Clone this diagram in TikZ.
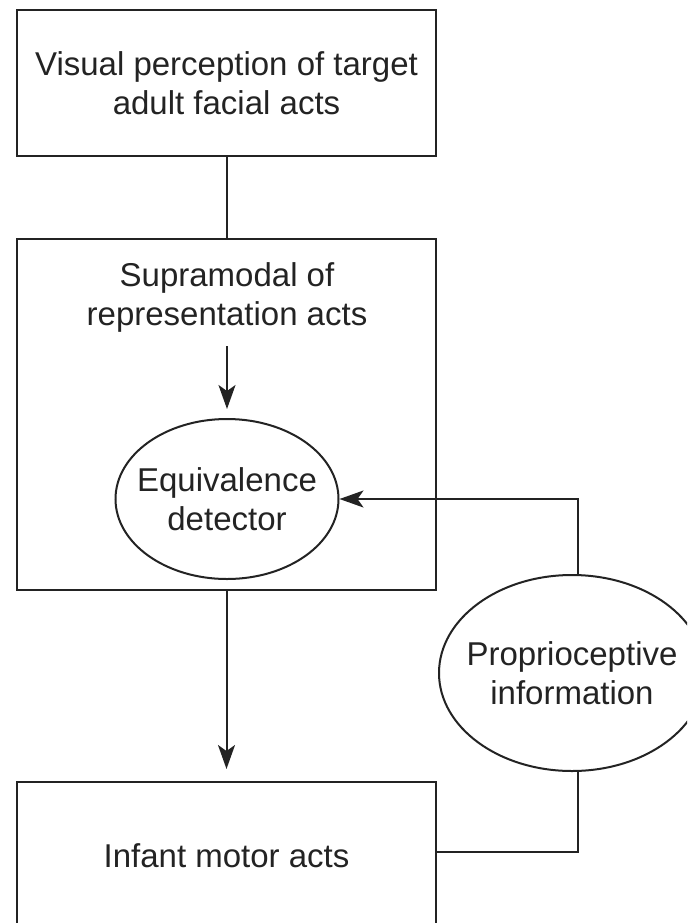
\documentclass[tikz,border=0pt]{standalone}
\usepackage{fontspec}
\setmainfont{Liberation Sans}
\usetikzlibrary{arrows.meta,shapes.geometric}

\definecolor{ink}{RGB}{35,35,35}

\tikzset{
  every node/.style={font=\fontsize{16.5pt}{19.5pt}\selectfont, text=ink, align=center},
  stagebox/.style={draw=ink, line width=1pt, rectangle, minimum width=209.5pt, inner sep=0pt},
  oval/.style={draw=ink, line width=1pt, ellipse, inner sep=0pt},
  ovaltext/.style={label={[align=center, inner sep=0pt]center:#1}},
  link/.style={draw=ink, line width=1pt},
  flow/.style={link, -{Stealth[length=12pt,width=8.5pt,inset=3pt]}}
}

\begin{document}
\begin{tikzpicture}[x=0.5pt,y=-0.5pt]
  \useasboundingbox (0,0) rectangle (687,923);
  \clip (0,0) rectangle (687,923);

  % stages
  \node[stagebox, minimum height=73pt] (visual) at (226.5,83)
    {Visual perception of target\\adult facial acts};
  \node[stagebox, minimum height=175.5pt] (supramodal) at (226.5,414.5) {};
  \node[inner sep=0pt] (suptext) at (227,297)
    {Supramodal of\\representation acts};
  \node[oval, minimum width=111.5pt, minimum height=80pt,
        ovaltext={Equivalence\\detector}] (equiv) at (227,499) {};
  \node[oval, minimum width=133pt, minimum height=98pt,
        ovaltext={Proprioceptive\\information}] (proprio) at (572,673) {};
  \node[stagebox, minimum height=74pt] (motor) at (226.5,856)
    {Infant motor acts};

  % connectors
  \draw[link] (visual.south) -- (supramodal.north);
  \draw[flow, shorten <=7pt, shorten >=4.5pt] (suptext.south) -- (equiv.north);
  \draw[flow, shorten >=6pt] (supramodal.south) -- (motor.north);
  \draw[link] ([yshift=2pt]motor.east) -| ([xshift=3pt]proprio.south);
  \draw[flow] ([xshift=3pt]proprio.north) |- (equiv.east);
\end{tikzpicture}
\end{document}
